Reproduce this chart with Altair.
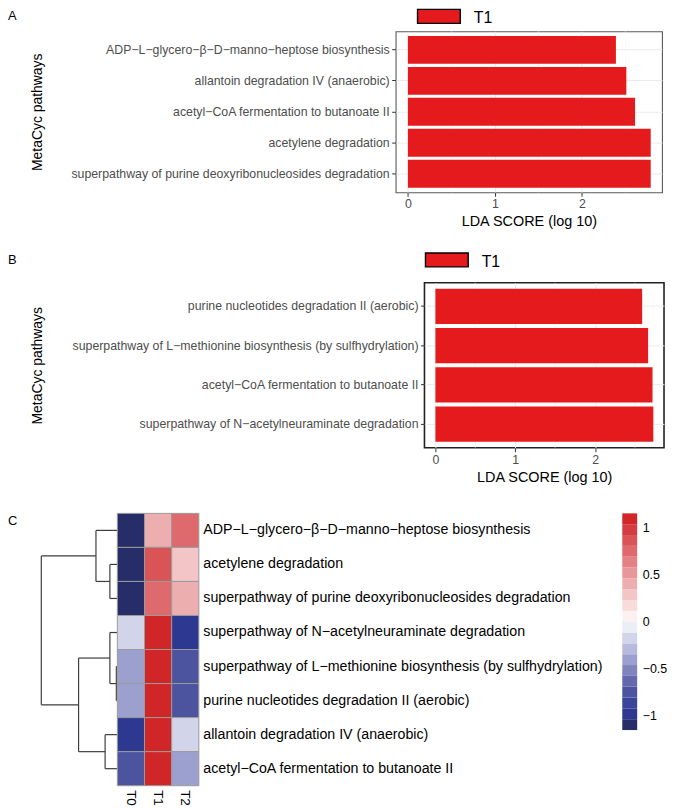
import altair as alt
import numpy as np
import pandas as pd

# ---------------- data ----------------
A_PATHWAYS = [
    "ADP−L−glycero−β−D−manno−heptose biosynthesis",
    "allantoin degradation IV (anaerobic)",
    "acetyl−CoA fermentation to butanoate II",
    "acetylene degradation",
    "superpathway of purine deoxyribonucleosides degradation",
]
A_SCORES = [2.39, 2.51, 2.61, 2.79, 2.79]

B_PATHWAYS = [
    "purine nucleotides degradation II (aerobic)",
    "superpathway of L−methionine biosynthesis (by sulfhydrylation)",
    "acetyl−CoA fermentation to butanoate II",
    "superpathway of N−acetylneuraminate degradation",
]
B_SCORES = [2.59, 2.665, 2.72, 2.73]

GROUP = "T1"
LDA_TICKS = [0, 1, 2]
LDA_MINOR = [0.5, 1.5, 2.5]

HM_ROWS = [
    "ADP−L−glycero−β−D−manno−heptose biosynthesis",
    "acetylene degradation",
    "superpathway of purine deoxyribonucleosides degradation",
    "superpathway of N−acetylneuraminate degradation",
    "superpathway of L−methionine biosynthesis (by sulfhydrylation)",
    "purine nucleotides degradation II (aerobic)",
    "allantoin degradation IV (anaerobic)",
    "acetyl−CoA fermentation to butanoate II",
]
HM_SAMPLES = ["T0", "T1", "T2"]
HM_T0 = [-1.14, -1.12, -1.14, -0.12, -0.42, -0.41, -0.93, -0.75]
HM_T1 = [0.42, 0.82, 0.76, 1.05, 1.14, 1.14, 1.06, 1.14]
HM_T2 = [0.72, 0.30, 0.38, -0.93, -0.72, -0.73, -0.13, -0.39]

# row dendrogram: leaves 0..7 (top to bottom), merge k creates node 8+k
DENDRO_LEFT = [1, 0, 4, 3, 6, 11, 9]
DENDRO_RIGHT = [2, 8, 5, 10, 7, 12, 13]
DENDRO_HEIGHT = [7.5, 21.5, 1.0, 7.5, 12.3, 39.0, 76.5]

LEGEND_TICKS = [-1, -0.5, 0, 0.5, 1]
Z_LIMIT = 1.1547

# ---------------- style ----------------
FONT = "Liberation Sans"
AXIS_GREY = "#4d4d4d"
TICK_GREY = "#333333"
GRID = "#ebebeb"
BAR_RED = "#e41a1c"
PALETTE = [
    "#262d69", "#2d3890", "#3a4498", "#4c539f", "#6469ad",
    "#7f84bc", "#9ca0ce", "#b7badc", "#d2d4ea", "#eceef6",
    "#fcf1f0", "#f8dbdb", "#f3c5c7", "#edaeb0", "#e89799",
    "#e38184", "#de6a6d", "#d95457", "#d53c3f", "#d12628",
]
# wide legend key (43 x 14 px), lifted 2 px inside its legend entry
LEGEND_PATH = "M-3.07,-1.286L3.07,-1.286L3.07,0.714L-3.07,0.714Z"


def letter_cell(letter, y, width, height):
    return alt.Chart(pd.DataFrame({"t": [letter]})).mark_text(
        align="left", baseline="top", fontSize=13, color="black"
    ).encode(text="t:N", x=alt.value(0), y=alt.value(y)).properties(
        width=width, height=height
    )


def filler(width=1, height=1):
    return alt.Chart(pd.DataFrame({"v": [0]})).mark_point(opacity=0).encode(
        x=alt.value(0), y=alt.value(0)
    ).properties(width=width, height=height)


def bar_panel(paths, scores, x_domain, width, height, legend_x, legend_y,
              title_x, stroke, stroke_width):
    df = pd.DataFrame({"pathway": paths, "score": scores,
                       "group": [GROUP] * len(paths)})
    xscale = alt.Scale(domain=x_domain, nice=False, zero=False)
    xaxis = alt.Axis(
        values=LDA_TICKS, format="d", title="LDA SCORE (log 10)",
        titleFontSize=14.5, titleFontWeight="normal", titleColor="black",
        titlePadding=4.7, labelFontSize=12.4, labelColor=AXIS_GREY,
        labelPadding=1.7, tickSize=4, tickColor=TICK_GREY, domain=False,
        grid=True, gridColor=GRID, gridWidth=1,
    )
    yaxis = alt.Axis(
        title="MetaCyc pathways", titleFontSize=14, titleFontWeight="normal",
        titleColor="black", titleX=title_x, titleBaseline="middle",
        labelFontSize=12.4, labelColor=AXIS_GREY, labelLimit=1000,
        labelPadding=2.5, tickSize=4, tickColor=TICK_GREY, domain=False,
        grid=True, gridColor=GRID, bandPosition=0.5,
    )
    minor = alt.Chart(pd.DataFrame({"m": LDA_MINOR})).mark_rule(
        color="#f3f3f3", strokeWidth=0.6
    ).encode(x=alt.X("m:Q", scale=xscale, axis=xaxis))
    bars = alt.Chart(df).mark_bar().encode(
        x=alt.X("score:Q", scale=xscale, axis=xaxis),
        x2=alt.datum(0),
        y=alt.Y("pathway:N", sort=paths,
                scale=alt.Scale(paddingInner=0.1, paddingOuter=0.15),
                axis=yaxis),
        color=alt.Color(
            "group:N",
            scale=alt.Scale(domain=[GROUP], range=[BAR_RED]),
            legend=alt.Legend(
                title=None, orient="none", legendX=legend_x, legendY=legend_y,
                direction="horizontal", symbolType=LEGEND_PATH, symbolSize=196,
                symbolStrokeColor="black", symbolStrokeWidth=1.4,
                symbolOpacity=1, labelFontSize=16, labelColor="black",
                labelOffset=27, padding=0,
            ),
        ),
    )
    return alt.layer(minor, bars).properties(
        width=width, height=height,
        view=alt.ViewBackground(stroke=stroke, strokeWidth=stroke_width),
    )


# ---------------- panel A / B ----------------
A_LEFT, B_LEFT = 390, 419
bar_a = bar_panel(A_PATHWAYS, A_SCORES, [-0.141, 2.92], 268, 162,
                  A_LEFT + 35.5, -21, -360.5, "#5a5a5a", 1.1)
bar_b = bar_panel(B_PATHWAYS, B_SCORES, [-0.137, 2.864], 241, 166,
                  B_LEFT + 14.5, -29, -389, "#222222", 1.6)

# ---------------- panel C : heatmap ----------------
hm_df = pd.DataFrame({
    "pathway": HM_ROWS * 3,
    "sample": [s for s in HM_SAMPLES for _ in HM_ROWS],
    "value": HM_T0 + HM_T1 + HM_T2,
})

color_scale = alt.Scale(type="quantize", domain=[-Z_LIMIT, Z_LIMIT],
                        range=PALETTE)

HM_W, HM_H = 82, 274

heat = alt.Chart(hm_df).mark_rect(stroke="#9a9a9a", strokeWidth=1).encode(
    x=alt.X("sample:N", sort=HM_SAMPLES,
            scale=alt.Scale(paddingInner=0, paddingOuter=0),
            axis=alt.Axis(title=None, orient="bottom", labelAngle=90,
                          labelFontSize=13.5, labelColor="black",
                          ticks=False, domain=False, labelPadding=4)),
    y=alt.Y("pathway:N", sort=HM_ROWS,
            scale=alt.Scale(paddingInner=0, paddingOuter=0),
            axis=alt.Axis(title=None, orient="right", labelFontSize=14.3,
                          labelColor="black", labelLimit=1000, ticks=False,
                          domain=False, labelPadding=4)),
    color=alt.Color("value:Q", scale=color_scale, legend=None),
).properties(width=HM_W, height=HM_H)

# dendrogram segments derived from the merge table
pos = {i: i + 0.5 for i in range(len(HM_ROWS))}
hgt = {i: 0.0 for i in range(len(HM_ROWS))}
segs = []
for k, (l, r, h) in enumerate(zip(DENDRO_LEFT, DENDRO_RIGHT, DENDRO_HEIGHT)):
    node = len(HM_ROWS) + k
    pos[node] = (pos[l] + pos[r]) / 2
    hgt[node] = h
    segs.append({"x1": h, "x2": h, "y1": pos[l], "y2": pos[r]})
    segs.append({"x1": hgt[l], "x2": h, "y1": pos[l], "y2": pos[l]})
    segs.append({"x1": hgt[r], "x2": h, "y1": pos[r], "y2": pos[r]})
seg_df = pd.DataFrame(segs)

DENDRO_W = 110
dendro_lines = alt.Chart(seg_df).mark_rule(color="#3d3d3d", strokeWidth=1.2).encode(
    x=alt.X("x1:Q", scale=alt.Scale(domain=[DENDRO_W, 0], nice=False, zero=False), axis=None),
    x2="x2:Q",
    y=alt.Y("y1:Q", scale=alt.Scale(domain=[0, len(HM_ROWS)], reverse=True,
                                    nice=False, zero=False), axis=None),
    y2="y2:Q",
)
letter_c = alt.Chart(pd.DataFrame({"t": ["C"]})).mark_text(
    align="left", baseline="top", fontSize=13, color="black"
).encode(text="t:N", x=alt.value(0), y=alt.value(2))
dendro = alt.layer(dendro_lines, letter_c).properties(width=DENDRO_W, height=HM_H)

# colour key
edges = np.linspace(-Z_LIMIT, Z_LIMIT, len(PALETTE) + 1)
cb_df = pd.DataFrame({"lo": edges[:-1], "hi": edges[1:],
                      "mid": (edges[:-1] + edges[1:]) / 2})
colorbar = alt.Chart(cb_df).mark_rect().encode(
    y=alt.Y("lo:Q", scale=alt.Scale(domain=[-Z_LIMIT, Z_LIMIT], nice=False, zero=False),
            axis=alt.Axis(orient="right", values=LEGEND_TICKS, format="~g",
                          title=None, labelFontSize=12.5, labelColor="black",
                          ticks=False, domain=False, grid=False, labelPadding=5)),
    y2="hi:Q",
    color=alt.Color("mid:Q", scale=color_scale, legend=None),
).properties(width=15, height=218)

# ---------------- layout ----------------
row_a = alt.hconcat(letter_cell("A", -21, A_LEFT, 224), bar_a,
                    spacing=0, bounds="flush")
row_b = alt.hconcat(letter_cell("B", -29, B_LEFT, 229), bar_b,
                    spacing=0, bounds="flush")
row_c = alt.hconcat(dendro, heat, filler(426, 1), colorbar,
                    spacing=0, bounds="flush")

chart = alt.vconcat(row_a, row_b, row_c, spacing=0).resolve_scale(
    color="independent"
).resolve_legend(color="independent").properties(
    padding=0
).configure(font=FONT).configure_view(stroke=None)

chart.save("out.html", embed_options={"renderer": "svg", "actions": False})
